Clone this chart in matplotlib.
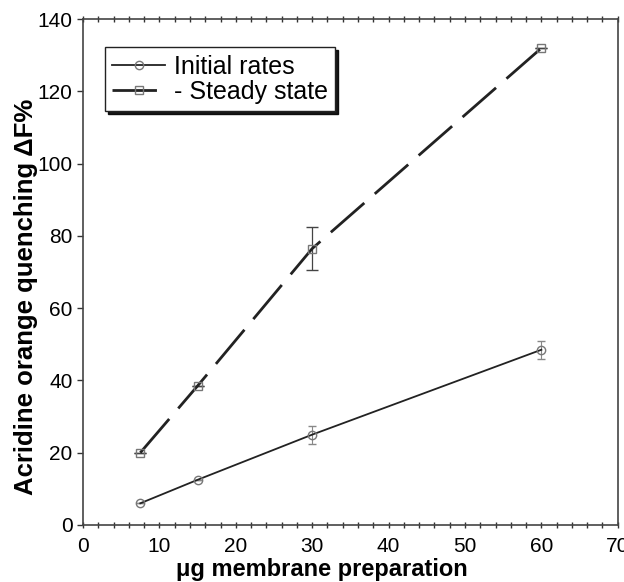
import matplotlib
matplotlib.use("Agg")
import matplotlib.pyplot as plt
from matplotlib.ticker import MultipleLocator
from matplotlib.lines import Line2D

plt.rcParams['font.family'] = ['Liberation Sans', 'DejaVu Sans']

x = [7.5, 15, 30, 60]
initial = [6, 12.5, 25, 48.5]
initial_err = [0, 0, 2.5, 2.5]
steady = [20, 38.5, 76.5, 132]
steady_err = [0, 0, 6, 0]

fig = plt.figure(figsize=(6.24, 5.82), dpi=100)
ax = fig.add_axes([0.133, 0.098, 0.857, 0.869])

ax.errorbar(x, initial, yerr=initial_err, color='#222222', lw=1.3,
            marker='o', ms=6, mfc='none', mec='#777777', mew=1,
            ecolor='#888888', elinewidth=0.8, capsize=3)
ax.errorbar(x, steady, yerr=steady_err, color='#222222', lw=2.0,
            dashes=(16, 5), marker='s', ms=6, mfc='none', mec='#777777', mew=1,
            ecolor='#444444', elinewidth=0.9, capsize=4)

ax.set_xlim(0, 70)
ax.set_ylim(0, 140)
ax.xaxis.set_major_locator(MultipleLocator(10))
ax.xaxis.set_minor_locator(MultipleLocator(2))
ax.yaxis.set_major_locator(MultipleLocator(20))
ax.tick_params(axis='x', which='both', direction='inout', length=5, width=1,
               top=True, labelsize=15, color='#333333', pad=6)
ax.tick_params(axis='y', which='both', direction='out', length=4, width=1,
               labelsize=15, color='#333333')
for s in ax.spines.values():
    s.set_color('#444444')
    s.set_linewidth(1.2)

ax.set_xlabel('\u03bcg membrane preparation', fontsize=17, fontweight='bold', labelpad=1)
ax.set_ylabel('Acridine orange quenching \u0394F%', fontsize=18.5, fontweight='bold', labelpad=4)
ax.xaxis.set_label_coords(0.447, -0.065)
ax.yaxis.set_label_coords(-0.084, 0.45)

handles = [
    Line2D([], [], color='#222222', lw=1.3, marker='o', ms=6, mfc='none', mec='#777777'),
    Line2D([], [], color='#222222', lw=2.0, dashes=(16, 5), marker='s', ms=6, mfc='none', mec='#777777'),
]
leg = ax.legend(handles, ['Initial rates', '- Steady state'],
                loc='upper left', bbox_to_anchor=(0.041, 0.945), fontsize=18,
                frameon=True, fancybox=False, edgecolor='#222222',
                shadow={'color': 'black', 'alpha': 0.9},
                handlelength=2.1, borderpad=0.3, labelspacing=0.05,
                handletextpad=0.35, borderaxespad=0)
leg.get_frame().set_linewidth(1.0)

fig.savefig('out.png', dpi=100)
